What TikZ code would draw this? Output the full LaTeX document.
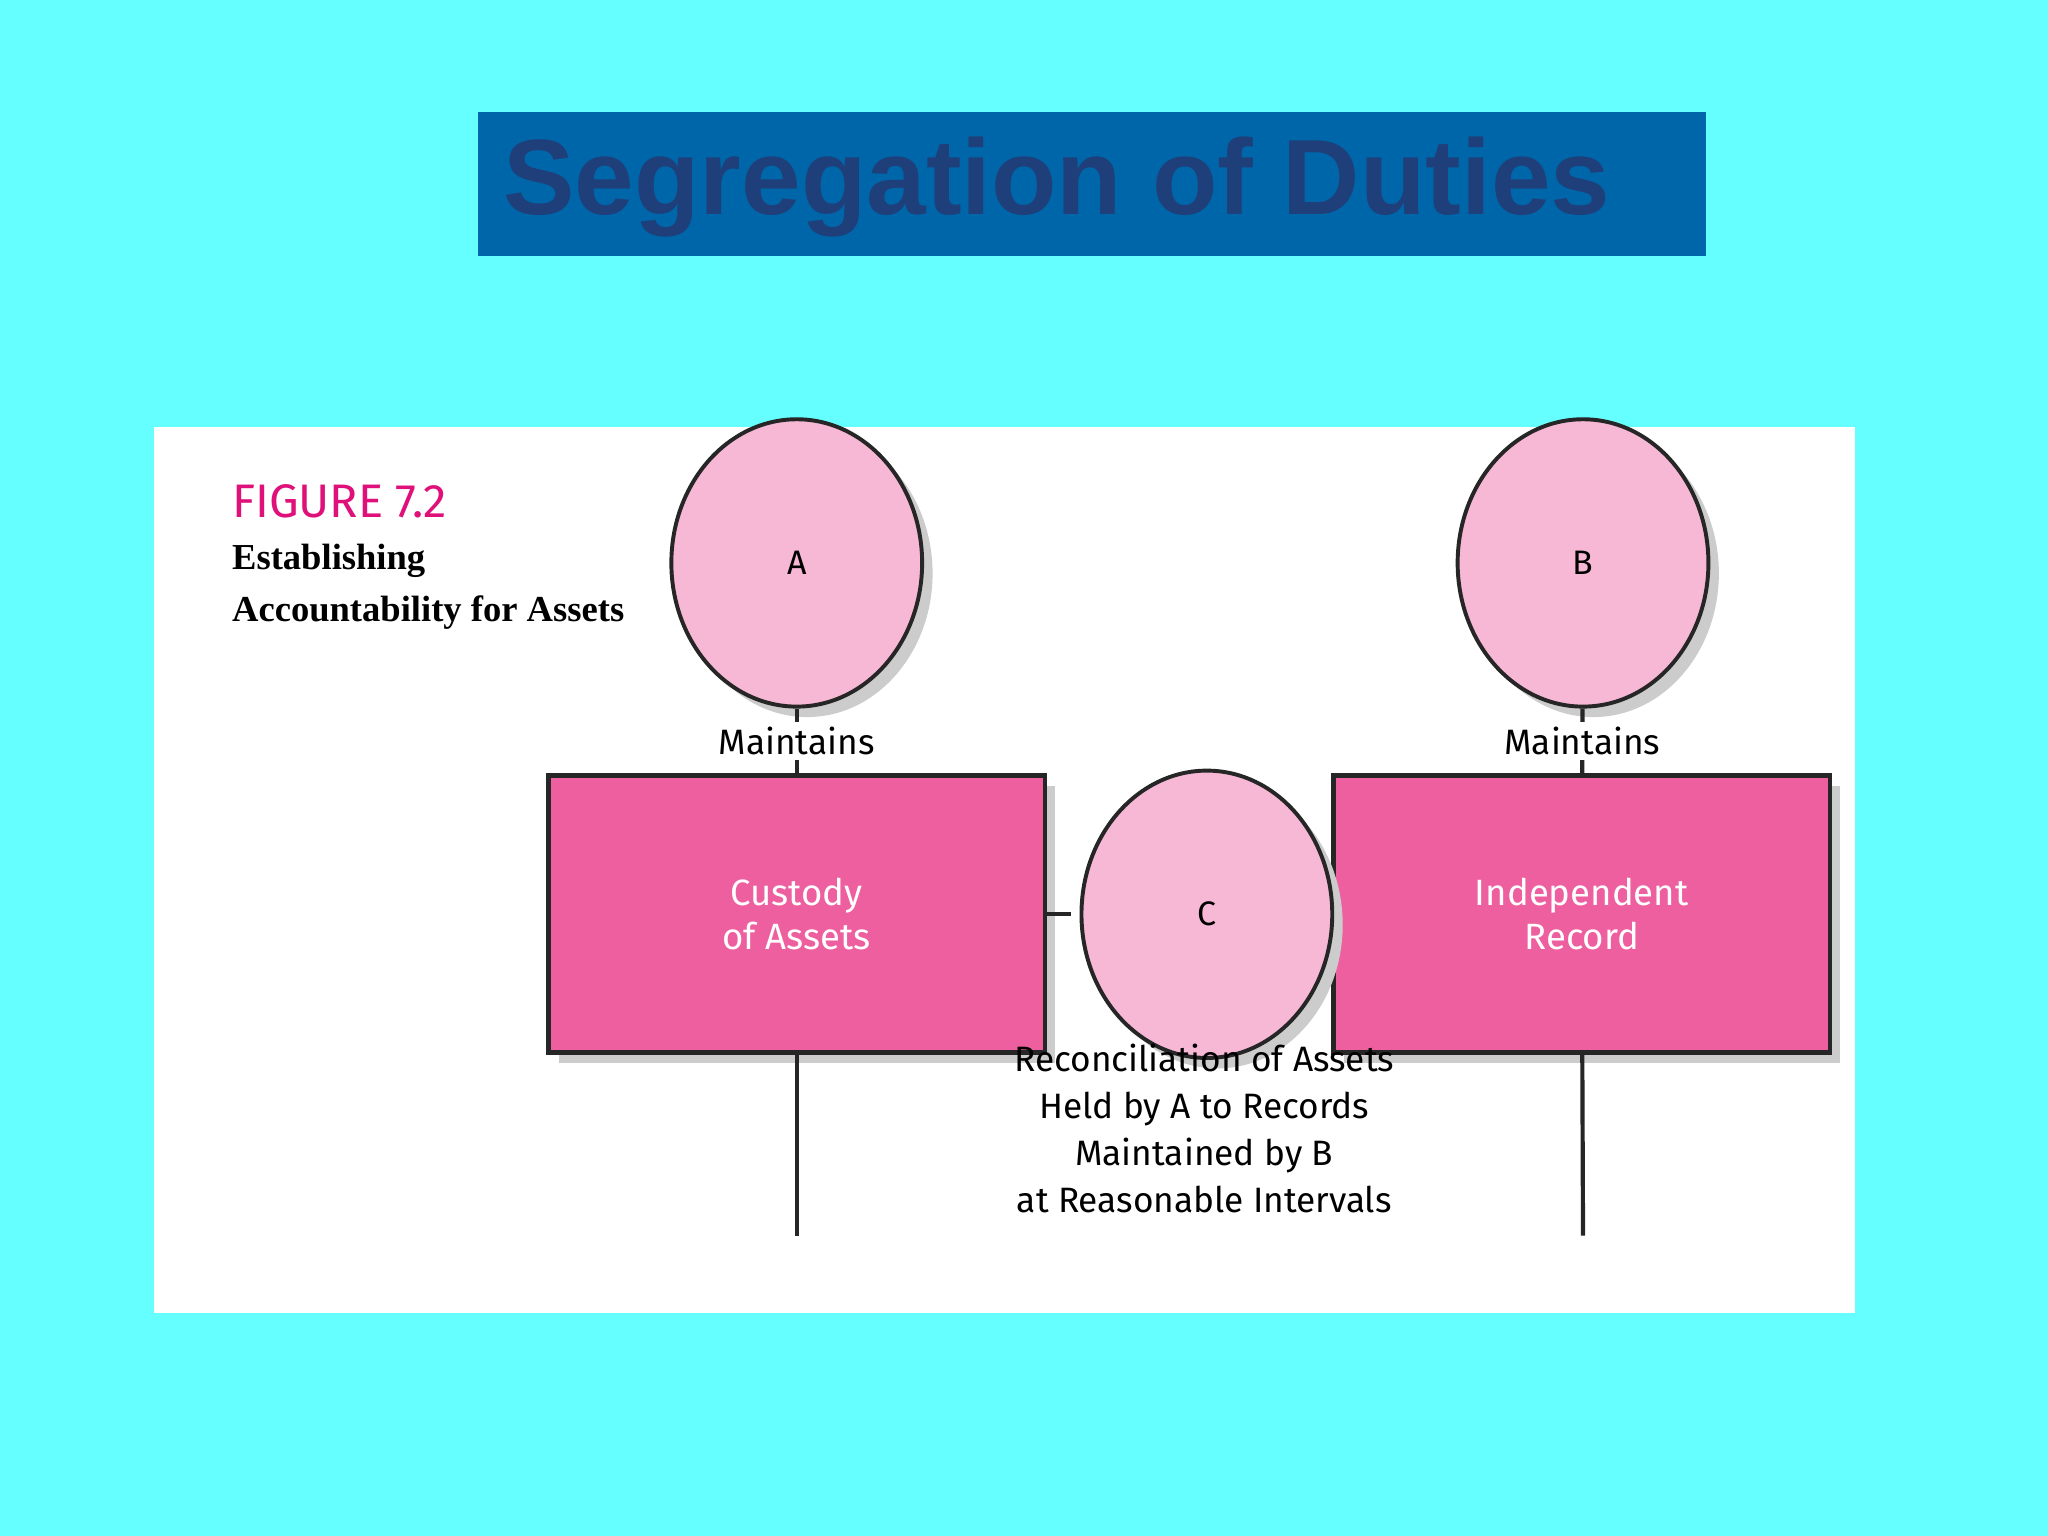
\documentclass[tikz,border=0pt]{standalone}
\usepackage{fontspec}
\setmainfont{Liberation Serif}
\newfontfamily\titlefont{Liberation Sans}
\newfontfamily\labelfont{Fira Sans}
\usetikzlibrary{shapes.geometric,shadows}
\definecolor{sky}{HTML}{66FFFF}
\definecolor{bar}{HTML}{0066AA}
\definecolor{ink}{HTML}{1F3F7A}
\definecolor{rosy}{HTML}{F7B8D6}
\definecolor{hotpink}{HTML}{EE5FA0}
\definecolor{figpink}{HTML}{E0107A}
\tikzset{every picture/.style={line width=0.75pt},
  person/.style={ellipse,draw=black!85,line width=1.5pt,fill=rosy,minimum width=96,minimum height=110,
    font=\labelfont\fontsize{13}{13}\selectfont,drop shadow={shadow xshift=4pt,shadow yshift=-4pt,fill=black!20,opacity=1}},
  duty/.style={rectangle,draw=black!85,line width=1.8pt,fill=hotpink,minimum width=190,minimum height=106,
    align=center,text=white,font=\labelfont\fontsize{14}{17}\selectfont,drop shadow={shadow xshift=4pt,shadow yshift=-4pt,fill=black!20,opacity=1}},
  link/.style={line width=1.6pt,draw=black!85},
  linklabel/.style={fill=white,inner sep=2pt,font=\labelfont\fontsize{13.5}{16}\selectfont}}
\begin{document}
\begin{tikzpicture}[x=0.5pt,y=-0.5pt]
\useasboundingbox (0,0) rectangle (1568,1176);
\fill[sky] (0,0) rectangle (1568,1176);
% title bar
\fill[bar] (366,86) rectangle (1306,196);
\node[anchor=west,text=ink,font=\titlefont\bfseries\fontsize{41}{41}\selectfont] (title) at (378,143) {Segregation of Duties};
% panel
\fill[white] (118,327) rectangle (1420,1005);
\node[anchor=north west,inner sep=0pt,text=figpink,font=\labelfont\fontsize{18}{18}\selectfont] (fig) at (177,370) {FIGURE 7.2};
\node[anchor=north west,inner sep=0pt,align=left,font=\bfseries\fontsize{14}{20}\selectfont] (sub) at (177,416) {Establishing\\Accountability for Assets};
% nodes
\node[person] (A) at (610,431) {A};
\node[person] (B) at (1212,431) {B};
\node[duty] (custody) at (610,700) {Custody\\of Assets};
\node[duty] (record) at (1211,700) {Independent\\Record};
\node[person] (C) at (924,700) {C};
\coordinate (endA) at (610,946);
\coordinate (endB) at (1212,946);
% connectors
\draw[link] (A) -- node[linklabel] {Maintains} (custody);
\draw[link] (B) -- node[linklabel] {Maintains} (record);
\draw[link,dash pattern=on 9pt off 4pt] (custody) -- (C);
\draw[link,dash pattern=on 9pt off 4pt] (C) -- (record);
\draw[link] (custody) -- (endA);
\draw[link] (record) -- (endB);
\node[align=center,font=\labelfont\fontsize{13.5}{18}\selectfont] (note) at (922,864) {Reconciliation of Assets\\Held by A to Records\\Maintained by B\\ at Reasonable Intervals};
\end{tikzpicture}
\end{document}
